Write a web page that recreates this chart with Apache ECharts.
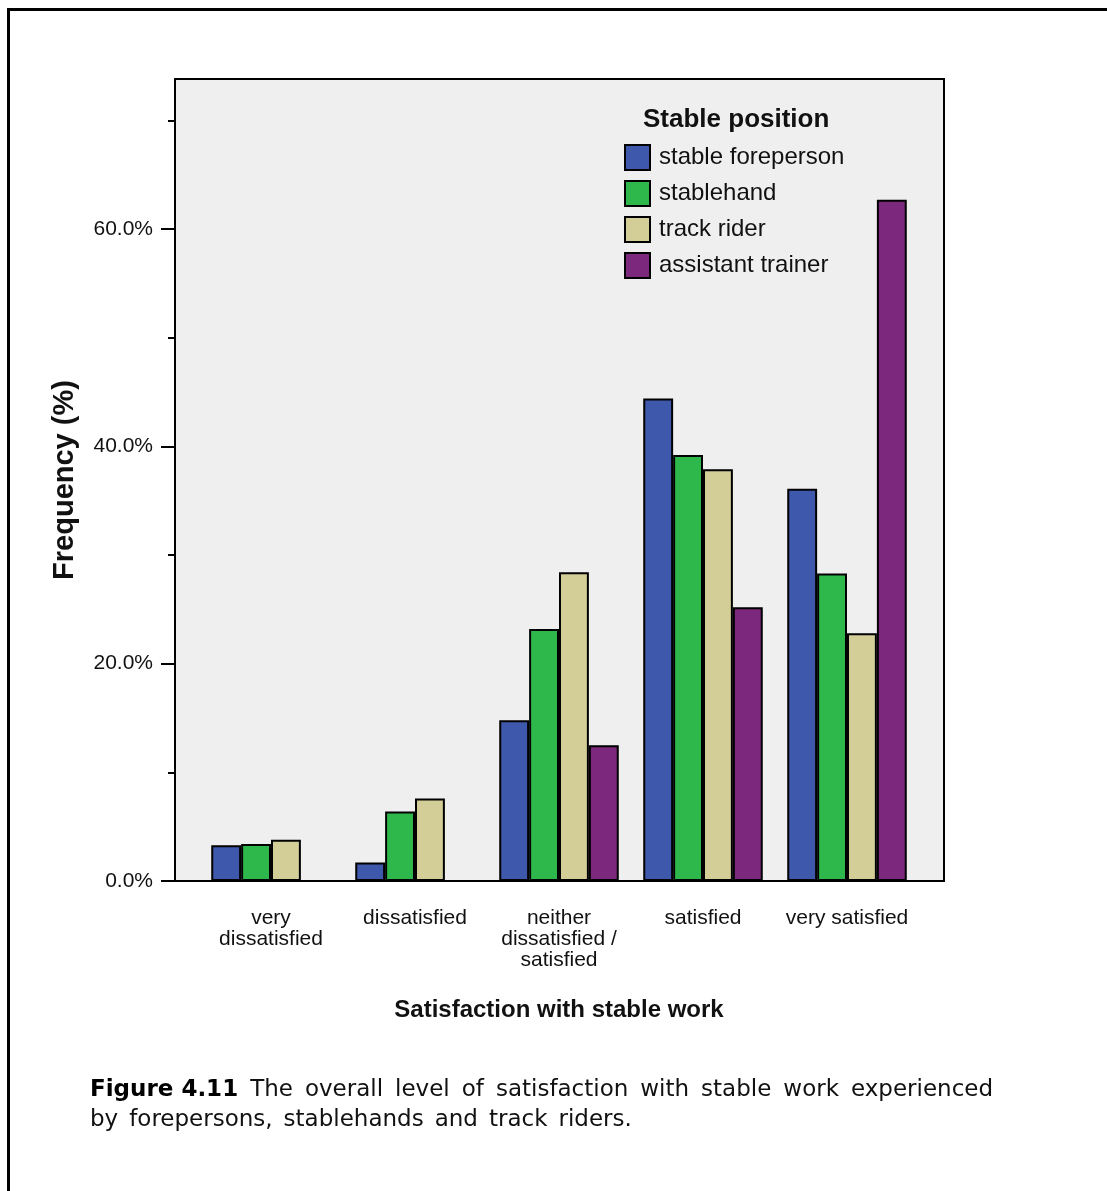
<!DOCTYPE html>
<html>
<head>
<meta charset="utf-8">
<script src="https://cdn.jsdelivr.net/npm/echarts@6/dist/echarts.min.js"></script>
<style>
html,body{margin:0;padding:0;background:#fff;}
#c{width:1107px;height:1191px;}
</style>
</head>
<body>
<div id="c"></div>
<script>
const categories = ['very\ndissatisfied', 'dissatisfied', 'neither\ndissatisfied /\nsatisfied', 'satisfied', 'very satisfied'];
const seriesNames = ['stable foreperson', 'stablehand', 'track rider', 'assistant trainer'];
const foreperson = [3.3, 1.7, 14.8, 44.4, 36.1];
const stablehand = [3.4, 6.4, 23.2, 39.2, 28.3];
const trackRider = [3.8, 7.6, 28.4, 37.9, 22.8];
const assistantTrainer = [0, 0, 12.5, 25.2, 62.7];
const majorTicks = [0, 20, 40, 60];
const minorTicks = [10, 30, 50, 70];
const colors = ['#3e59ac', '#2eb84b', '#d3ce97', '#7c287c'];
const seriesData = [foreperson, stablehand, trackRider, assistantTrainer];
const captionLine1 = ['The', 'overall', 'level', 'of', 'satisfaction', 'with', 'stable', 'work', 'experienced'];
const captionLine2 = ['by', 'forepersons,', 'stablehands', 'and', 'track', 'riders.'];

const chart = echarts.init(document.getElementById('c'));
const FONT = 'Liberation Sans';
const yBase = {
  type: 'value', min: 0, max: 73.8, position: 'left', offset: 24,
  splitLine: { show: false },
  axisLine: { show: true, lineStyle: { color: '#000', width: 2 } }
};
const caption1 = '{b|Figure 4.11}{s| }' + captionLine1.join('{s| }');
const caption2 = captionLine2.join('{t| }');
chart.setOption({
  animation: false,
  textStyle: { fontFamily: FONT },
  grid: { left: 199, right: 188, top: 79, bottom: 310 },
  legend: {
    orient: 'vertical', left: 624, top: 144, itemWidth: 25, itemHeight: 25, itemGap: 9,
    padding: 0, icon: 'rect',
    itemStyle: { borderColor: '#000', borderWidth: 2 },
    textStyle: { fontSize: 24, lineHeight: 25, color: '#111', fontFamily: FONT, padding: [0, 0, 0, 4] },
    data: seriesNames
  },
  xAxis: {
    type: 'category', data: categories,
    axisLine: { lineStyle: { color: '#000', width: 2 } },
    axisTick: { alignWithLabel: true, length: 13, lineStyle: { color: '#000', width: 2 } },
    axisLabel: { interval: 0, fontSize: 21, color: '#111', lineHeight: 21, margin: 27, fontFamily: FONT },
    name: 'Satisfaction with stable work', nameLocation: 'middle', nameGap: 117,
    nameTextStyle: { fontSize: 24, fontWeight: 'bold', color: '#111', fontFamily: FONT }
  },
  yAxis: [
    Object.assign({}, yBase, {
      axisTick: { show: true, length: 14, customValues: majorTicks, lineStyle: { color: '#000', width: 2 } },
      axisLabel: { show: true, customValues: majorTicks, fontSize: 21, color: '#111', margin: 22,
        formatter: v => v.toFixed(1) + '%' },
      name: 'Frequency (%)', nameLocation: 'middle', nameGap: 96,
      nameTextStyle: { fontSize: 29, fontWeight: 'bold', color: '#111', fontFamily: FONT }
    }),
    Object.assign({}, yBase, {
      axisTick: { show: true, length: 7, customValues: minorTicks, lineStyle: { color: '#000', width: 2 } },
      axisLabel: { show: false }
    })
  ],
  graphic: [
    { type: 'rect', z: -10, shape: { x: 175, y: 79, width: 769, height: 802 },
      style: { fill: '#efefef', stroke: '#000', lineWidth: 2 } },
    { type: 'rect', z: -20, shape: { x: 8.5, y: 9.5, width: 1300, height: 1400 },
      style: { fill: 'none', stroke: '#000', lineWidth: 3 } },
    { type: 'text', left: 643, top: 107, z: 10,
      style: { text: 'Stable position', font: 'bold 26px "Liberation Sans"', fill: '#111' } },
    { type: 'text', left: 90, top: 1075, z: 10,
      style: { text: caption1, font: '23px "DejaVu Sans"', fill: '#111', lineHeight: 30,
        rich: { b: { font: 'bold 23px "DejaVu Sans"', fill: '#000' }, s: { width: 12, font: '23px "DejaVu Sans"' } } } },
    { type: 'text', left: 90, top: 1105, z: 10,
      style: { text: caption2, font: '23px "DejaVu Sans"', fill: '#111', lineHeight: 30,
        rich: { t: { width: 11, font: '23px "DejaVu Sans"' } } } }
  ],
  series: seriesNames.map((n, i) => ({
    name: n, type: 'bar', data: seriesData[i], barGap: '0%', barCategoryGap: '17%',
    itemStyle: { color: colors[i], borderColor: '#000', borderWidth: 2 }
  }))
});
</script>
</body>
</html>
